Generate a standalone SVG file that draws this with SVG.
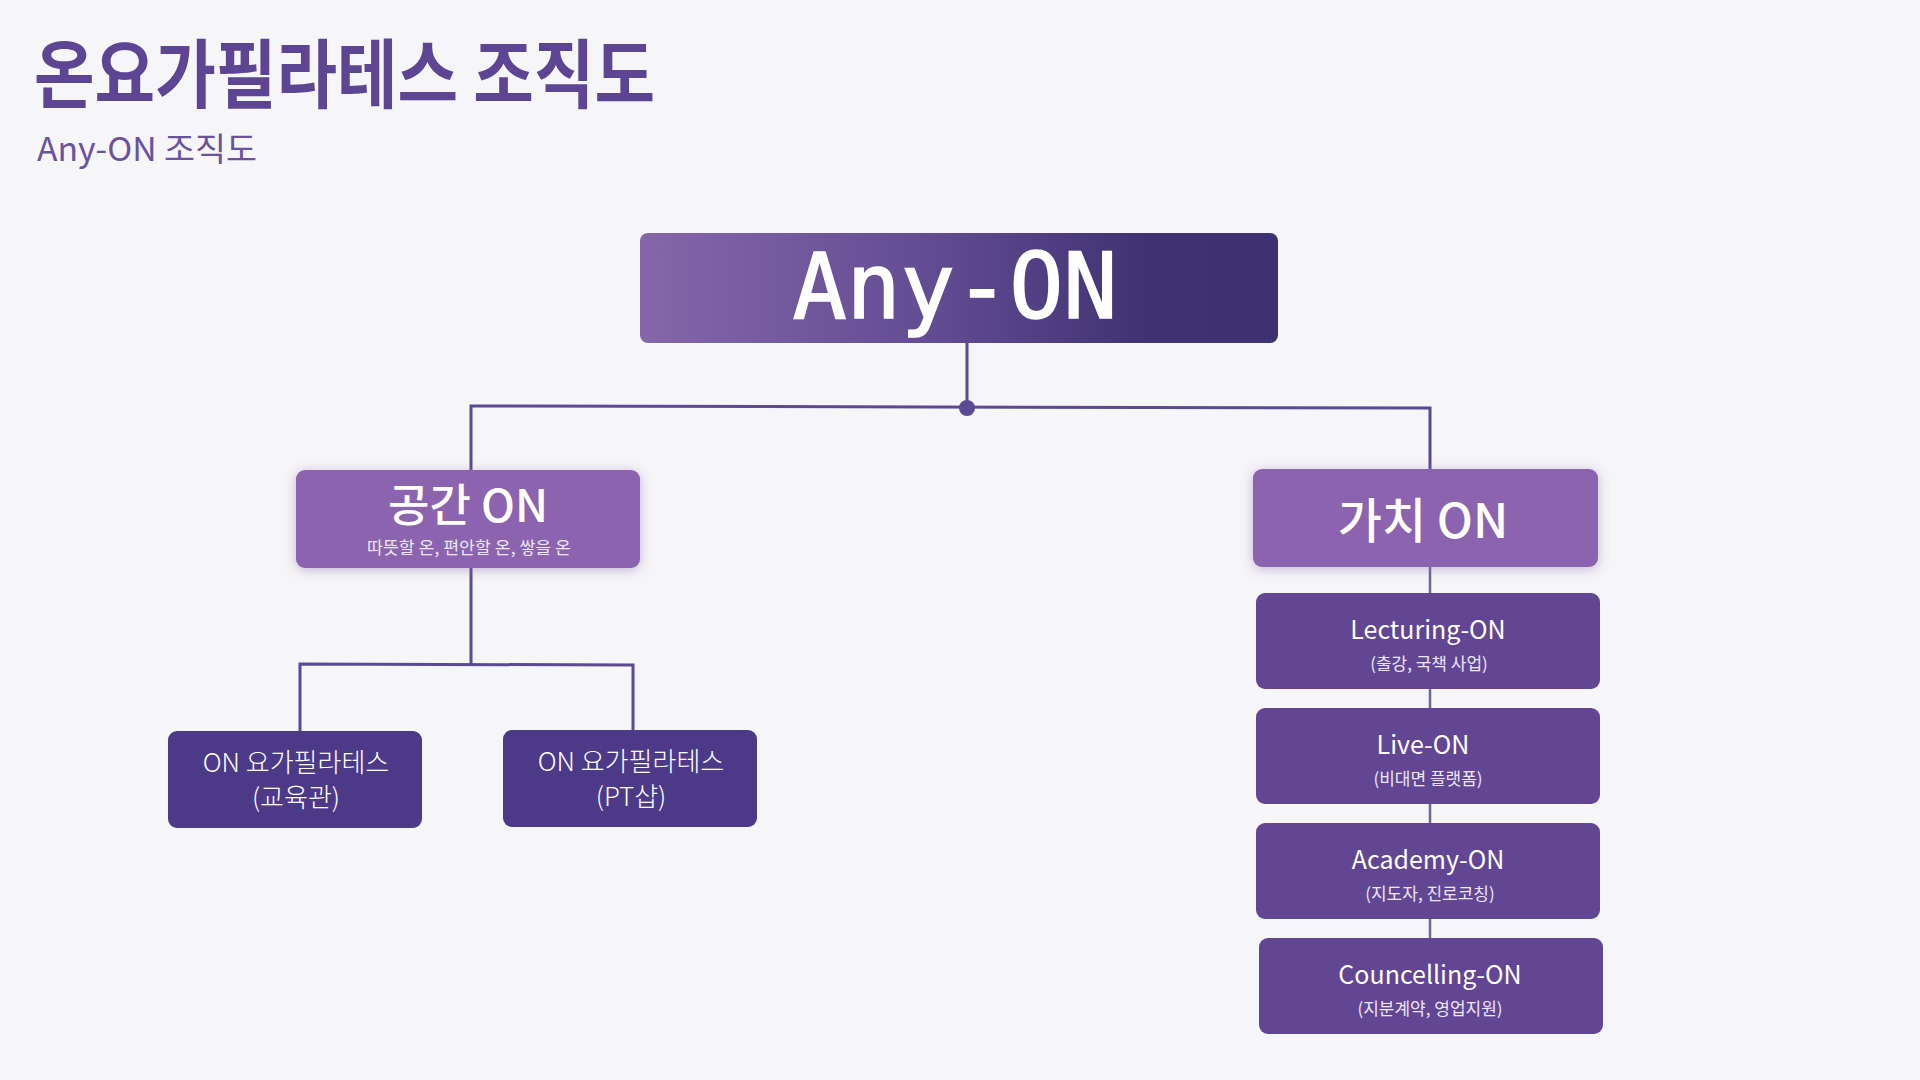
<svg xmlns="http://www.w3.org/2000/svg" width="1920" height="1080" viewBox="0 0 1920 1080">
<defs>
<linearGradient id="topGrad" x1="0" y1="0" x2="1" y2="0">
<stop offset="0" stop-color="#8567a9"/>
<stop offset="0.45" stop-color="#634c93"/>
<stop offset="0.8" stop-color="#3f3272"/>
<stop offset="1" stop-color="#3d3171"/>
</linearGradient>
<filter id="glow" x="-20%" y="-30%" width="140%" height="160%">
<feDropShadow dx="0" dy="2" stdDeviation="6" flood-color="#8b64ae" flood-opacity="0.45"/>
</filter>
<style>
.bg{fill:#f6f5f7}
.ln{stroke:#5b4994;stroke-width:3;fill:none}
.mid{fill:#8b64ae}
.dark{fill:#624694}
.indigo{fill:#4c3a89}
.t{font-family:"Noto Sans CJK KR","Noto Sans",sans-serif;fill:#ffffff;text-anchor:middle}
.h{font-size:25px}
.s{font-size:17px;fill:#ece6f4}
.k{font-size:26px;font-weight:300}
</style>
</defs>
<rect class="bg" x="0" y="0" width="1920" height="1080"/>
<g id="title">
<text x="34" y="102" font-family="'Noto Sans CJK KR',sans-serif" font-weight="700" font-size="75" fill="#5e4593" textLength="621" lengthAdjust="spacingAndGlyphs">온요가필라테스 조직도</text>
<text x="37" y="161" font-family="'Noto Sans CJK KR',sans-serif" font-size="33" fill="#6a52a0" textLength="220" lengthAdjust="spacingAndGlyphs">Any-ON 조직도</text>
</g>
<g id="connectors">
<line class="ln" x1="967" y1="343" x2="967" y2="408"/>
<polyline class="ln" points="471,470 471,406 1430,408 1430,469"/>
<circle cx="967" cy="408" r="8" fill="#5b4994"/>
<line class="ln" x1="471" y1="568" x2="471" y2="664"/>
<polyline class="ln" points="300,731 300,664 633,665 633,730"/>
<line x1="1430" y1="567" x2="1430" y2="938" stroke="#6f6690" stroke-width="2.5"/>
</g>
<g id="node-anyon">
<rect x="640" y="233" width="638" height="110" rx="8" fill="url(#topGrad)"/>
<text x="955" y="318" font-family="'DejaVu Sans Mono',monospace" font-weight="400" font-size="90" fill="#ffffff" text-anchor="middle" stroke="#ffffff" stroke-width="1.5">Any-ON</text>
</g>
<g id="node-space">
<rect class="mid" x="296" y="470" width="344" height="98" rx="9" filter="url(#glow)"/>
<text class="t" x="468" y="522" font-size="45" font-weight="500">공간 ON</text>
<text class="t s" x="469" y="554" textLength="204" lengthAdjust="spacingAndGlyphs">따뜻할 온, 편안할 온, 쌓을 온</text>
</g>
<g id="node-value">
<rect class="mid" x="1253" y="469" width="345" height="98" rx="9" filter="url(#glow)"/>
<text class="t" x="1423" y="538" font-size="48" font-weight="500">가치 ON</text>
</g>
<g id="node-edu">
<rect class="indigo" x="168" y="731" width="254" height="97" rx="9"/>
<text class="t k" x="296" y="772">ON 요가필라테스</text>
<text class="t k" x="296" y="807">(교육관)</text>
</g>
<g id="node-pt">
<rect class="indigo" x="503" y="730" width="254" height="97" rx="9"/>
<text class="t k" x="631" y="771">ON 요가필라테스</text>
<text class="t k" x="631" y="806">(PT샵)</text>
</g>
<g id="node-lecturing">
<rect class="dark" x="1256" y="593" width="344" height="96" rx="9"/>
<text class="t h" x="1428" y="639">Lecturing-ON</text>
<text class="t s" x="1429" y="670">(출강, 국책 사업)</text>
</g>
<g id="node-live">
<rect class="dark" x="1256" y="708" width="344" height="96" rx="9"/>
<text class="t h" x="1423" y="754">Live-ON</text>
<text class="t s" x="1428" y="785">(비대면 플랫폼)</text>
</g>
<g id="node-academy">
<rect class="dark" x="1256" y="823" width="344" height="96" rx="9"/>
<text class="t h" x="1428" y="869">Academy-ON</text>
<text class="t s" x="1430" y="900">(지도자, 진로코칭)</text>
</g>
<g id="node-councelling">
<rect class="dark" x="1259" y="938" width="344" height="96" rx="9"/>
<text class="t h" x="1430" y="984">Councelling-ON</text>
<text class="t s" x="1430" y="1015">(지분계약, 영업지원)</text>
</g>
</svg>
